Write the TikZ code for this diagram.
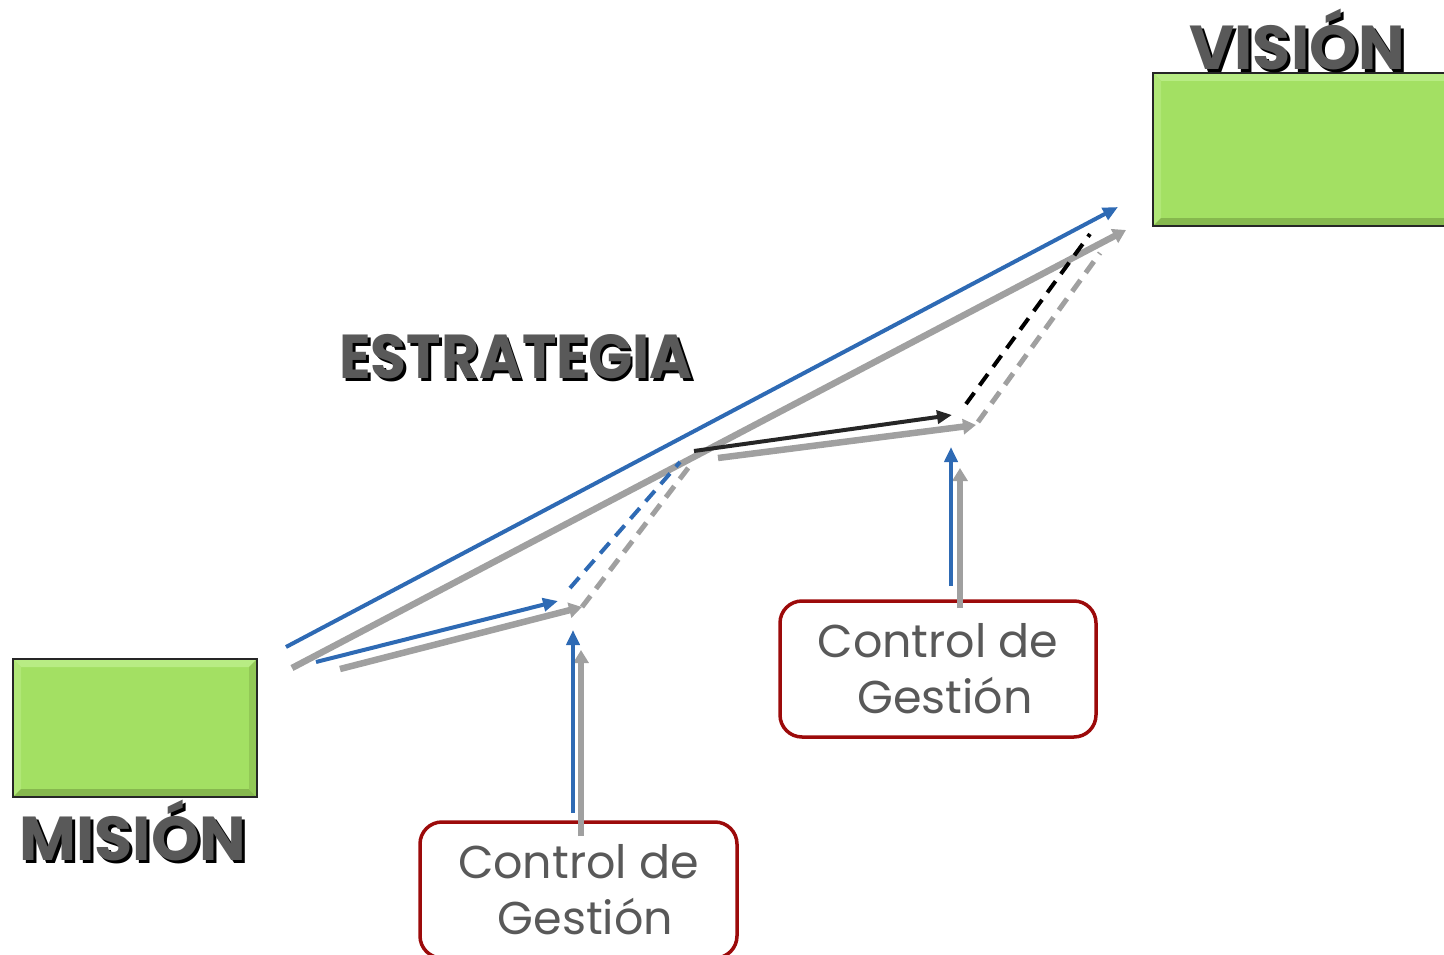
\documentclass[tikz,border=0pt]{standalone}
\usepackage{fontspec}
\setmainfont{Poppins}
\usetikzlibrary{arrows.meta}
\definecolor{blu}{HTML}{2E6AB4}
\definecolor{gry}{HTML}{A0A0A0}
\definecolor{grn}{HTML}{A3E063}
\definecolor{grnL}{HTML}{B8EC84}
\definecolor{grnD}{HTML}{86B84E}
\definecolor{txtgray}{HTML}{595959}
\definecolor{ctlred}{HTML}{9C0A0A}
\newcommand\shadowed[1]{\makebox[0pt][l]{\hspace{3pt}\raisebox{-3pt}{\color{black}#1}}#1}
\begin{document}
\begin{tikzpicture}[x=1pt,y=-1pt,
  heading/.style={font=\fontsize{62}{62}\selectfont\bfseries, text=txtgray, inner sep=0pt, anchor=base},
  ctlbox/.style={draw=ctlred, line width=3.5pt, rounded corners=22pt, fill=white,
     font=\fontsize{46}{56}\selectfont, text=txtgray, align=center, inner sep=0pt},
  bluarrow/.style={draw=blu, line width=4pt, -{Triangle[length=15pt,width=13pt]}},
  gryarrow/.style={draw=gry, line width=6.5pt, -{Triangle[length=13pt,width=15pt]}},
  blkarrow/.style={draw=black!85, line width=4pt, -{Triangle[length=15pt,width=13pt]}},
  dashline/.style={line width=4pt, dash pattern=on 14pt off 9pt},
]
\useasboundingbox (0,0) rectangle (1444,955);

% green boxes with bevel
\newcommand\bevelbox[5]{% x1 y1 x2 y2 name
  \fill[grn] (#1,#2) rectangle (#3,#4);
  \fill[grnL] (#1,#2) -- (#3,#2) -- (#3-8,#2+8) -- (#1+8,#2+8) -- cycle;
  \fill[grnL!60!grn] (#1,#2) -- (#1+8,#2+8) -- (#1+8,#4-8) -- (#1,#4) -- cycle;
  \fill[grnD] (#1,#4) -- (#1+8,#4-8) -- (#3-8,#4-8) -- (#3,#4) -- cycle;
  \fill[grnD!60!grn] (#3,#2) -- (#3-8,#2+8) -- (#3-8,#4-8) -- (#3,#4) -- cycle;
  \node[draw=black!85, line width=2pt, inner sep=0pt, minimum width={#3-#1}, minimum height={#4-#2}] (#5) at ({(#1+#3)/2},{(#2+#4)/2}) {};
}
\bevelbox{13}{659}{257}{797}{mision}
\bevelbox{1153}{73}{1452}{226}{vision}

% headings with shadow
\node[heading] (misionT) at (133,860) {\shadowed{MISIÓN}};
\node[heading] (visionT) at (1297,70) {\shadowed{VISIÓN}};
\node[heading] (estrT) at (516,378) {\scalebox{0.94}[1]{\shadowed{ESTRATEGIA}}};

% control boxes
\node[ctlbox, minimum width=317pt, minimum height=136pt] (ctl1) at (578.5,890) {Control de\\\hspace*{14pt}Gestión};
\node[ctlbox, minimum width=316pt, minimum height=136pt] (ctl2) at (938,669) {Control de\\\hspace*{14pt}Gestión};

% coordinates
\coordinate (gA) at (292,668);
\coordinate (gB) at (1126,230);
\coordinate (bA) at (286,647);
\coordinate (bB) at (1118,207);
\coordinate (b1s) at (316,662);
\coordinate (b1e) at (558,601);
\coordinate (g1s) at (340,669);
\coordinate (g1e) at (582,607);
\coordinate (bd1s) at (570,588);
\coordinate (bd1e) at (680,462);
\coordinate (gd1s) at (582,607);
\coordinate (gd1e) at (692,463);
\coordinate (k1s) at (694,451);
\coordinate (k1e) at (952,415);
\coordinate (g2s) at (718,458);
\coordinate (g2e) at (976,425);
\coordinate (kd1s) at (966,404);
\coordinate (kd1e) at (1090,234);
\coordinate (gd2s) at (978,422);
\coordinate (gd2e) at (1100,253);
\coordinate (v1b) at (573,813);
\coordinate (v1t) at (573,630);
\coordinate (v1gb) at (581,836);
\coordinate (v1gt) at (581,650);
\coordinate (v2b) at (951,586);
\coordinate (v2t) at (951,447);
\coordinate (v2gb) at (960,608);
\coordinate (v2gt) at (960,468);

% gray shadow arrows
\draw[gryarrow] (gA) -- (gB);
\draw[gryarrow] (g1s) -- (g1e);
\draw[gryarrow] (g2s) -- (g2e);
\draw[draw=gry, dashline, line width=5pt] (gd1s) -- (gd1e);
\draw[draw=gry, dashline, line width=5pt] (gd2s) -- (gd2e);
\draw[gryarrow] (v1gb) -- (v1gt);
\draw[gryarrow] (v2gb) -- (v2gt);

% main arrows
\draw[bluarrow] (bA) -- (bB);
\draw[bluarrow] (b1s) -- (b1e);
\draw[draw=blu, dashline] (bd1s) -- (bd1e);
\draw[blkarrow] (k1s) -- (k1e);
\draw[draw=black, dashline] (kd1s) -- (kd1e);
\draw[bluarrow] (v1b) -- (v1t);
\draw[bluarrow] (v2b) -- (v2t);
\end{tikzpicture}
\end{document}
